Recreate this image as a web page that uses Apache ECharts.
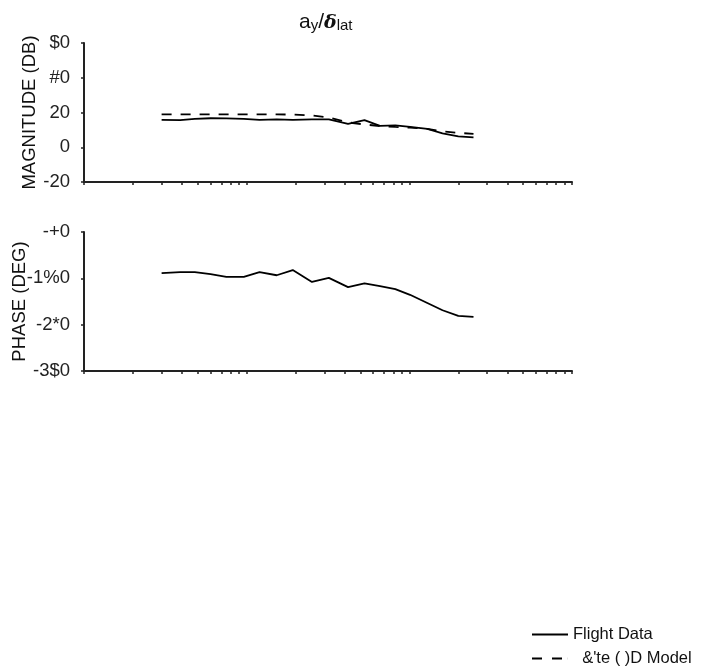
<!DOCTYPE html>
<html>
<head>
<meta charset="utf-8">
<script src="https://cdn.jsdelivr.net/npm/echarts@6/dist/echarts.min.js"></script>
<style>html,body{margin:0;padding:0;background:#fff;}#chart{width:705px;height:672px;}</style>
</head>
<body>
<div id="chart"></div>
<script>
// ---- data ----
var freq = [0.30, 0.39, 0.48, 0.60, 0.75, 0.96, 1.2, 1.53, 1.92, 2.52, 3.2, 4.2, 5.3, 6.6, 8.2, 10.1, 12.9, 16, 20, 24.8];
var magFlight = [15.7, 15.6, 16.3, 16.7, 16.6, 16.3, 15.7, 16.0, 15.8, 16.0, 16.0, 13.4, 15.6, 12.3, 12.6, 11.7, 10.6, 8.0, 6.3, 5.7];
var magModel = [18.9, 18.9, 18.9, 18.9, 18.9, 18.9, 18.9, 18.9, 18.8, 18.3, 17.1, 14.3, 13.1, 12.2, 11.7, 11.3, 10.6, 9.1, 8.3, 7.7];
var phaseFlight = [-170, -168, -168, -172, -177, -177, -168, -174, -164, -187, -179, -197, -190, -195, -201, -212, -228, -242, -253, -255];
var magTickLabels = {'60': '$0', '40': '#0', '20': '20', '0': '0', '-20': '-20'};
var phaseTickLabels = {'-90': '-+0', '-180': '-1%0', '-270': '-2*0', '-360': '-3$0'};
var seriesNames = ['Flight Data', "&'te ( )D Model"];
var xTicks = [];
[0.1, 1, 10].forEach(function (d) { for (var k = 1; k < 10; k++) xTicks.push(+(k * d).toPrecision(3)); });
xTicks.push(100);

function pairs(xs, ys) { return xs.map(function (x, i) { return [x, ys[i]]; }); }

var chart = echarts.init(document.getElementById('chart'), null, {renderer: 'canvas'});
var font = 'Liberation Sans, Arial, sans-serif';
function xAxisCfg(gi) {
  return {
    type: 'log', logBase: 10, gridIndex: gi, min: 0.1, max: 100,
    axisLine: {show: true, onZero: false, lineStyle: {color: '#222', width: 2}},
    axisTick: {show: true, inside: false, length: 3, customValues: xTicks, lineStyle: {color: '#222', width: 1.5}},
    axisLabel: {show: false},
    splitLine: {show: false}
  };
}
function yAxisCfg(gi, min, max, interval, labels, name, gap) {
  return {
    type: 'value', gridIndex: gi, min: min, max: max, interval: interval,
    name: name, nameLocation: 'middle', nameGap: gap, nameMoveOverlap: false,
    nameTextStyle: {fontFamily: font, fontSize: 18.5, color: '#111'},
    axisLine: {show: true, onZero: false, lineStyle: {color: '#222', width: 2}},
    axisTick: {show: true, length: 3, lineStyle: {color: '#222', width: 1.5}},
    axisLabel: {fontFamily: font, fontSize: 18.5, color: '#222', margin: 14,
      formatter: function (v) { return labels[String(v)] !== undefined ? labels[String(v)] : ''; }},
    splitLine: {show: false}
  };
}
var solidIcon = 'path://M0,0h36v2h-36z';
var dashIcon = 'path://M0,0h10v2h-10zM20,0h10v2h-10zM35.9,0h0.1v2h-0.1z';
var option = {
  backgroundColor: '#fff',
  animation: false,
  title: {
    text: '{a|a}{s|y}{a|/}{d|δ}{s|lat}',
    left: 294, top: 6,
    textStyle: {
      rich: {
        a: {fontFamily: font, fontSize: 21, fontWeight: 'normal', color: '#111', verticalAlign: 'bottom', lineHeight: 22},
        d: {fontFamily: 'DejaVu Serif, serif', fontStyle: 'italic', fontWeight: 'bold', fontSize: 19, color: '#111', verticalAlign: 'bottom', lineHeight: 22},
        s: {fontFamily: font, fontSize: 15, fontWeight: 'normal', color: '#111', verticalAlign: 'bottom', padding: [12, 0, 0, 0], lineHeight: 15}
      }
    }
  },
  legend: [
    {orient: 'vertical', left: 532, top: 626, padding: 0, itemWidth: 36, itemHeight: 2, itemGap: 6,
      data: [{name: seriesNames[0], icon: solidIcon}],
      textStyle: {fontFamily: font, fontSize: 16.5, color: '#111'}},
    {orient: 'vertical', left: 532, top: 650, padding: 0, itemWidth: 36, itemHeight: 2, itemGap: 6,
      data: [{name: seriesNames[1], icon: dashIcon}],
      formatter: function (n) { return '  ' + n; },
      textStyle: {fontFamily: font, fontSize: 16.5, color: '#111'}}
  ],
  grid: [
    {left: 84, top: 43, width: 488, height: 139, containLabel: false, outerBoundsMode: 'none'},
    {left: 84, top: 232, width: 488, height: 139, containLabel: false, outerBoundsMode: 'none'}
  ],
  xAxis: [xAxisCfg(0), xAxisCfg(1)],
  yAxis: [
    yAxisCfg(0, -20, 60, 20, magTickLabels, 'MAGNITUDE (DB)', 45),
    yAxisCfg(1, -360, -90, 90, phaseTickLabels, 'PHASE (DEG)', 55)
  ],
  series: [
    {name: seriesNames[0], type: 'line', xAxisIndex: 0, yAxisIndex: 0, showSymbol: false, symbol: 'none',
      data: pairs(freq, magFlight), lineStyle: {color: '#000', width: 1.8}, itemStyle: {color: '#000'}},
    {name: seriesNames[1], type: 'line', xAxisIndex: 0, yAxisIndex: 0, showSymbol: false, symbol: 'none',
      data: pairs(freq, magModel), lineStyle: {color: '#000', width: 1.8, type: [10, 9]}, itemStyle: {color: '#000'}},
    {name: seriesNames[0], type: 'line', xAxisIndex: 1, yAxisIndex: 1, showSymbol: false, symbol: 'none',
      data: pairs(freq, phaseFlight), lineStyle: {color: '#000', width: 1.8}, itemStyle: {color: '#000'}}
  ]
};
chart.setOption(option);
</script>
</body>
</html>
